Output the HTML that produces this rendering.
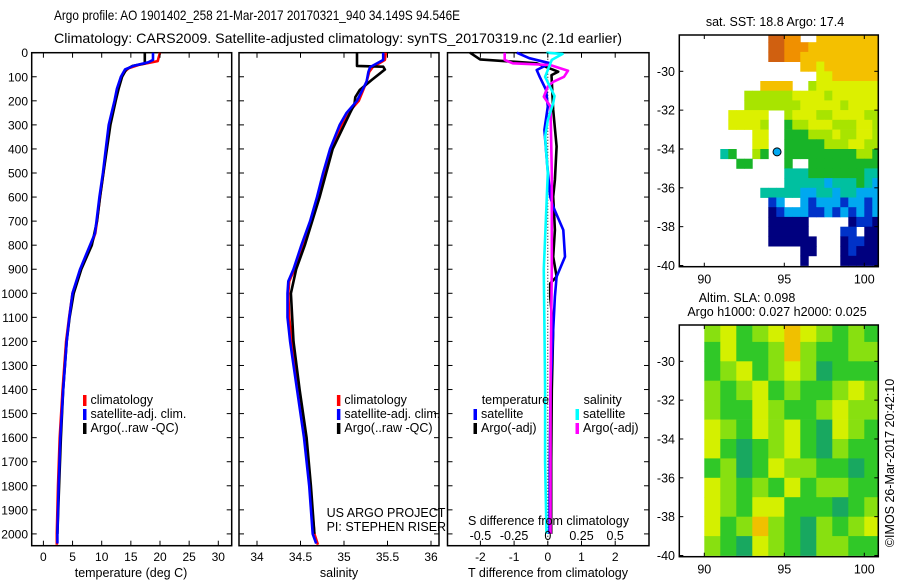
<!DOCTYPE html>
<html><head><meta charset="utf-8">
<style>
html,body{margin:0;padding:0;background:#fff;}
svg{display:block;font-family:"Liberation Sans",sans-serif;}
text{font-family:"Liberation Sans",sans-serif;fill:#000;}
</style></head>
<body>
<svg id="fig" width="900" height="580" viewBox="0 0 900 580" xmlns="http://www.w3.org/2000/svg">
<text x="54" y="20" font-size="14" textLength="406" lengthAdjust="spacingAndGlyphs">Argo profile: AO 1901402_258 21-Mar-2017 20170321_940 34.149S 94.546E</text>
<text x="54" y="43" font-size="14" textLength="568" lengthAdjust="spacingAndGlyphs">Climatology: CARS2009. Satellite-adjusted climatology: synTS_20170319.nc (2.1d earlier)</text>
<g id="layer"></g>
</svg>
<script>
// ---------- data ----------
const depthTicks = [0,100,200,300,400,500,600,700,800,900,1000,1100,1200,1300,1400,1500,1600,1700,1800,1900,2000];
const tempTicks = [0,5,10,15,20,25,30];
const salTicks = [34,34.5,35,35.5,36];
const salTickLabels = ["34","34.5","35","35.5","36"];
const tdiffTicks = [-2,-1,0,1,2];
const sdiffTicks = [-0.5,-0.25,0,0.25,0.5];
const sdiffTickLabels = ["-0.5","-0.25","0","0.25","0.5"];

const tClimDepth = [0,35,50,65,80,100,150,200,300,400,500,600,700,750,800,900,1000,1100,1200,1400,1600,1800,2000,2045];
const tClimVal   = [20.0,19.6,16.5,14.6,13.9,13.4,12.7,12.3,11.3,10.8,10.3,9.7,9.2,8.9,8.2,6.4,5.0,4.4,3.9,3.3,2.8,2.5,2.3,2.3];
const tSatDepth  = [0,30,40,55,70,100,150,200,300,400,500,600,700,750,800,900,1000,1100,1200,1400,1600,1800,2000,2040];
const tSatVal    = [18.8,18.8,18.0,15.4,14.0,13.3,12.6,12.2,11.2,10.7,10.2,9.6,9.1,8.85,8.0,6.3,5.0,4.45,4.0,3.4,2.9,2.6,2.4,2.4];
const tArgoDepth = [0,45,55,70,100,150,200,300,400,500,600,700,800,900,1000,1100,1200,1400,1600,1800,2000];
const tArgoVal   = [17.4,17.4,15.3,14.2,13.5,12.9,12.4,11.5,10.9,10.3,9.7,9.2,8.3,6.5,5.2,4.5,4.0,3.4,3.0,2.7,2.4];

const sClimDepth = [0,30,60,80,120,200,250,300,400,500,600,700,800,900,950,1000,1100,1200,1400,1600,1800,2000,2045];
const sClimVal   = [35.48,35.47,35.33,35.29,35.26,35.17,35.05,34.97,34.86,34.78,34.70,34.62,34.52,34.43,34.37,34.36,34.37,34.40,34.47,34.55,34.61,34.66,34.70];
const sSatDepth  = [0,30,60,80,120,200,250,300,400,500,600,700,800,900,950,1000,1100,1200,1400,1600,1800,2000,2040];
const sSatVal    = [35.45,35.45,35.30,35.28,35.26,35.15,35.03,34.95,34.84,34.76,34.69,34.61,34.51,34.42,34.36,34.35,34.35,34.38,34.46,34.54,34.60,34.64,34.68];
const sArgoDepth = [0,55,58,70,113,155,185,215,250,400,600,800,900,1000,1200,1400,1600,1800,2000];
const sArgoVal   = [35.15,35.15,35.45,35.47,35.32,35.18,35.13,35.12,35.07,34.87,34.72,34.55,34.45,34.39,34.42,34.49,34.57,34.62,34.66];

const dTSatDepth = [0,23,44,72,100,155,224,321,460,598,640,737,848,931,1014,1152,1400,1700,2000];
const dTSatVal   = [-0.92,-0.55,0.07,-0.33,-0.24,-0.05,0.0,-0.1,-0.02,0.07,0.16,0.46,0.51,0.26,0.21,0.16,0.08,0.06,0.05];
const dTArgoDepth = [0,28,44,79,93,238,390,529,598,737,848,931,959,1014,1152,1400,1700,2000];
const dTArgoVal   = [-2.31,-2.01,-0.33,0.31,0.11,0.16,0.26,0.21,0.16,0.21,0.16,0.26,0.07,0.07,0.16,0.12,0.1,0.1];
const dSArgoDepth = [0,30,44,51,75,100,121,141,183,224,500,900,1400,1700,2000];
const dSArgoVal   = [-0.32,-0.32,-0.26,0.016,0.15,0.12,0.04,0.0,-0.03,0.02,0.03,0.03,0.02,0.02,0.02];
const dSSatDepth = [0,5,30,100,180,210,280,350,500,900,1400,1700,2000];
const dSSatVal   = [-0.01,0.11,0.03,-0.02,0.05,0.04,0.0,-0.02,0.0,-0.03,-0.02,-0.02,-0.01];

const argoLon = 94.546, argoLat = -34.149;
const sstLonTicks = [90,95,100];
const latTicks = [-30,-32,-34,-36,-38,-40];
const sstRows = [
"...........jjii..hhhhhhhh",
"...........jjiiihhhhhhhhh",
"...........jjiihhhhhhhhhh",
"...............hhghhhhhhh",
".................gghhhhhh",
"..........hhhh..fgggggggg",
"........ffffffggggfgggggg",
"........fffffffgggggfgggg",
"......ggggg..fgggffggggff",
"......ggggf..effgggfffggf",
".........gg..eeefffgffggf",
".........gg..eeeeefffggff",
".....de..fe..eeeeeeeeeffe",
".......ee....e..eeeeeeeee",
".............dddeeeeeeedd",
".............dddddcdddedc",
"..........dddddccddcddccc",
"...........bc..cbcccbccbc",
"...........abcccbbcbcbcbc",
"...........aaaaa.....abba",
"...........aaaaa....bb.aa",
"...........aaaaaa...abbaa",
"...............aa...abaaa",
"...............a....aaaaa"];
const sstColors = {a:"#00007f",b:"#0032c8",c:"#00a8f0",d:"#00c0a0",e:"#18b428",f:"#a8e400",g:"#dcf000",h:"#f4c000",i:"#f09000",j:"#d06010"};
const slaRows = [
"lyelyoylele",
"eyeeloleell",
"elyelylteee",
"lelyeleelyl",
"leeyleelyll",
"yleylyetyle",
"yetelyetlee",
"elteylleete",
"yleleyelleel",
"yleyyeeetel",
"yeloletlely",
"letyletllee"];
const slaColors = {t:"#18a860",e:"#30c828",l:"#88e010",y:"#d4f000",o:"#f0c000"};

// ---------- geometry ----------
const TOP=52.7, DPX=0.2406;
const yD = d => TOP + d*DPX;
const P1={l:31.7,r:231.7}, P2={l:239,r:439}, P3={l:447.5,r:649}, PB=545.7;
const xT = t => 43.4 + t*5.83;
const xS = s => 257 + (s-34)*87;
const xdT = t => 547.8 + t*33.7;
const xdS = s => 547.8 + s*134.8;
const M={l:679.3,r:878.3};
const xLon = lo => 704.3 + (lo-90)*16;
const yLat1 = la => 71.3 + (-30-la)*19.42;
const yLat2 = la => 361.3 + (-30-la)*19.42;

const NS="http://www.w3.org/2000/svg";
const layer=document.getElementById('layer');
function mk(tag, attrs, parent){
  const e=document.createElementNS(NS,tag);
  for(const k in attrs) e.setAttribute(k,attrs[k]);
  (parent||layer).appendChild(e);
  return e;
}
function txt(x,y,s,size,anchor,parent){
  const t=mk('text',{x:x,y:y,'font-size':size||12,'text-anchor':anchor||'start'},parent);
  t.textContent=s; return t;
}

function panelFrame(P,name){
  const g=mk('g',{});
  
  
  const r=mk('rect',{x:P.l,y:TOP,width:P.r-P.l,height:PB-TOP,fill:'none',stroke:'#000','stroke-width':1.5},g);
  
  
  depthTicks.forEach(d=>{
    mk('line',{x1:P.l,x2:P.l+5,y1:yD(d),y2:yD(d),stroke:'#000'},g);
    mk('line',{x1:P.r-5,x2:P.r,y1:yD(d),y2:yD(d),stroke:'#000'},g);
  });
  return g;
}
function curve(g,depths,vals,fx,color,name,w){
  const pts=depths.map((d,i)=>fx(vals[i]).toFixed(1)+','+yD(d).toFixed(1)).join(' ');
  const p=mk('polyline',{points:pts,fill:'none',stroke:color,'stroke-width':w||2.6,'stroke-linejoin':'round'},g);
  
  
}
function xTicks(g,P,ticks,labels,fx,ly){
  ticks.forEach((t,i)=>{
    const x=fx(t);
    mk('line',{x1:x,x2:x,y1:PB,y2:PB-5,stroke:'#000'},g);
    mk('line',{x1:x,x2:x,y1:TOP,y2:TOP+5,stroke:'#000'},g);
    const lb=txt(x,ly,labels?labels[i]:String(t),12,'middle',g);
    
    
  });
}
function legendEntry(g,mx,y,color,label,name){
  const r=mk('rect',{x:mx-1.5,y:y-9,width:3.5,height:11,fill:color},g);
  
  
  const t=txt(mx+6,y,label,12.5,'start',g);
  
  
}

const dg=mk('g',{});


depthTicks.forEach(d=>{
  const t=txt(28,yD(d)+4.5,String(d),12,'end',dg);
  
  
});

const g1=panelFrame(P1,'temperature-panel');
curve(g1,tClimDepth,tClimVal,xT,'#ff0000','temp-climatology-line');
curve(g1,tArgoDepth,tArgoVal,xT,'#000000','temp-argo-line');
curve(g1,tSatDepth,tSatVal,xT,'#0000ff','temp-satellite-line');
xTicks(g1,P1,tempTicks,null,xT,561);
let xl=txt(131,577,'temperature (deg C)',12.5,'middle',g1);


legendEntry(g1,84.5,404,'#ff0000','climatology','legend-climatology');
legendEntry(g1,84.5,418,'#0000ff','satellite-adj. clim.','legend-satellite');
legendEntry(g1,84.5,432,'#000000','Argo(..raw -QC)','legend-argo');

const g2=panelFrame(P2,'salinity-panel');
curve(g2,sClimDepth,sClimVal,xS,'#ff0000','sal-climatology-line');
curve(g2,sArgoDepth,sArgoVal,xS,'#000000','sal-argo-line');
curve(g2,sSatDepth,sSatVal,xS,'#0000ff','sal-satellite-line');
xTicks(g2,P2,salTicks,salTickLabels,xS,561);
xl=txt(339,577,'salinity',12.5,'middle',g2);


legendEntry(g2,338.4,404,'#ff0000','climatology','legend-climatology');
legendEntry(g2,338.4,418,'#0000ff','satellite-adj. clim.','legend-satellite');
legendEntry(g2,338.4,432,'#000000','Argo(..raw -QC)','legend-argo');
let t1=txt(326.6,517,'US ARGO PROJECT',12.5,'start',g2);


t1=txt(326.6,531,'PI: STEPHEN RISER',12.5,'start',g2);



const g3=panelFrame(P3,'difference-panel');
const zl=mk('line',{x1:xdT(0),x2:xdT(0),y1:TOP,y2:PB,stroke:'#000','stroke-dasharray':'1,2'},g3);


curve(g3,dTArgoDepth,dTArgoVal,xdT,'#000000','tdiff-argo-line');
curve(g3,dTSatDepth,dTSatVal,xdT,'#0000ff','tdiff-satellite-line');
curve(g3,dSArgoDepth,dSArgoVal,xdS,'#ff00ff','sdiff-argo-line');
curve(g3,dSSatDepth,dSSatVal,xdS,'#00ffff','sdiff-satellite-line');
xTicks(g3,P3,tdiffTicks,null,xdT,561);
sdiffTicks.forEach((s,i)=>{
  const x=xdS(s);
  const t=txt(x,540,sdiffTickLabels[i],12.5,'middle',g3);
  
  
});
t1=txt(468,525,'S difference from climatology',12.5,'start',g3);


xl=txt(548,577,'T difference from climatology',12.5,'middle',g3);


t1=txt(481.7,404,'temperature',12.5,'start',g3);


t1=txt(583.6,404,'salinity',12.5,'start',g3);


legendEntry(g3,475,418,'#0000ff','satellite','legend-t-satellite');
legendEntry(g3,475,432,'#000000','Argo(-adj)','legend-t-argo');
legendEntry(g3,577,418,'#00ffff','satellite','legend-s-satellite');
legendEntry(g3,577,432,'#ff00ff','Argo(-adj)','legend-s-argo');

function mapFrame(g,top,bottom,yLat,name){
  latTicks.forEach(la=>{
    const y=yLat(la);
    mk('line',{x1:M.l,x2:M.l+4,y1:y,y2:y,stroke:'#000'},g);
    mk('line',{x1:M.r-4,x2:M.r,y1:y,y2:y,stroke:'#000'},g);
    const t=txt(675,y+4.5,String(la),12.5,'end',g);
    
    
  });
  sstLonTicks.forEach(lo=>{
    const x=xLon(lo);
    mk('line',{x1:x,x2:x,y1:bottom,y2:bottom-4,stroke:'#000'},g);
    mk('line',{x1:x,x2:x,y1:top,y2:top+4,stroke:'#000'},g);
    const t=txt(x,bottom+17,String(lo),12.5,'middle',g);
    
    
  });
  const r=mk('rect',{x:M.l,y:top,width:M.r-M.l,height:bottom-top,fill:'none',stroke:'#000','stroke-width':1.5},g);
  
  
}
const gm1=mk('g',{});


mk('clipPath',{id:'c1'},gm1).appendChild(document.createElementNS(NS,'rect'));
const c1r=gm1.querySelector('#c1 rect');
c1r.setAttribute('x',M.l);c1r.setAttribute('y',35);c1r.setAttribute('width',M.r-M.l);c1r.setAttribute('height',231.7);
const cells1=mk('g',{'clip-path':'url(#c1)'},gm1);
sstRows.forEach((row,j)=>{
  for(let i=0;i<row.length;i++){
    const ch=row[i]; if(ch==='.') continue;
    const lo=88.5+0.5*i, la=-28-0.5*j;
    const x0=xLon(lo), x1=xLon(lo+0.5), y0=yLat1(la), y1=yLat1(la-0.5);
    const c=mk('rect',{x:x0.toFixed(1),y:y0.toFixed(1),width:(x1-x0+0.4).toFixed(1),height:(y1-y0+0.4).toFixed(1),fill:sstColors[ch]},cells1);
    
    
  }
});
const mkr=mk('circle',{cx:xLon(argoLon),cy:yLat1(argoLat),r:4,fill:'#00a8f0',stroke:'#000','stroke-width':1},gm1);


mapFrame(gm1,35,266.7,yLat1,'sst-map');
t1=txt(775,26,'sat. SST: 18.8 Argo: 17.4',12.5,'middle',gm1);



const gm2=mk('g',{});


mk('clipPath',{id:'c2'},gm2).appendChild(document.createElementNS(NS,'rect'));
const c2r=gm2.querySelector('#c2 rect');
c2r.setAttribute('x',M.l);c2r.setAttribute('y',325);c2r.setAttribute('width',M.r-M.l);c2r.setAttribute('height',231.7);
const cells2=mk('g',{'clip-path':'url(#c2)'},gm2);
slaRows.forEach((row,j)=>{
  for(let i=0;i<11;i++){
    const ch=row[i];
    const lo=90+i, la=-28-j;
    const x0=xLon(lo), x1=xLon(lo+1), y0=yLat2(la), y1=yLat2(la-1);
    const c=mk('rect',{x:x0.toFixed(1),y:y0.toFixed(1),width:(x1-x0+0.4).toFixed(1),height:(y1-y0+0.4).toFixed(1),fill:slaColors[ch]||'#88e010'},cells2);
    
    
  }
});
mapFrame(gm2,325,556.7,yLat2,'sla-map');
t1=txt(747,302,'Altim. SLA: 0.098',12.5,'middle',gm2);


t1=txt(777,316,'Argo h1000: 0.027 h2000: 0.025',12.5,'middle',gm2);


t1=txt(0,0,'\u00a9IMOS 26-Mar-2017 20:42:10',12.5,'middle',gm2);
t1.setAttribute('transform','translate(894,463) rotate(-90)');


</script>
</body></html>
